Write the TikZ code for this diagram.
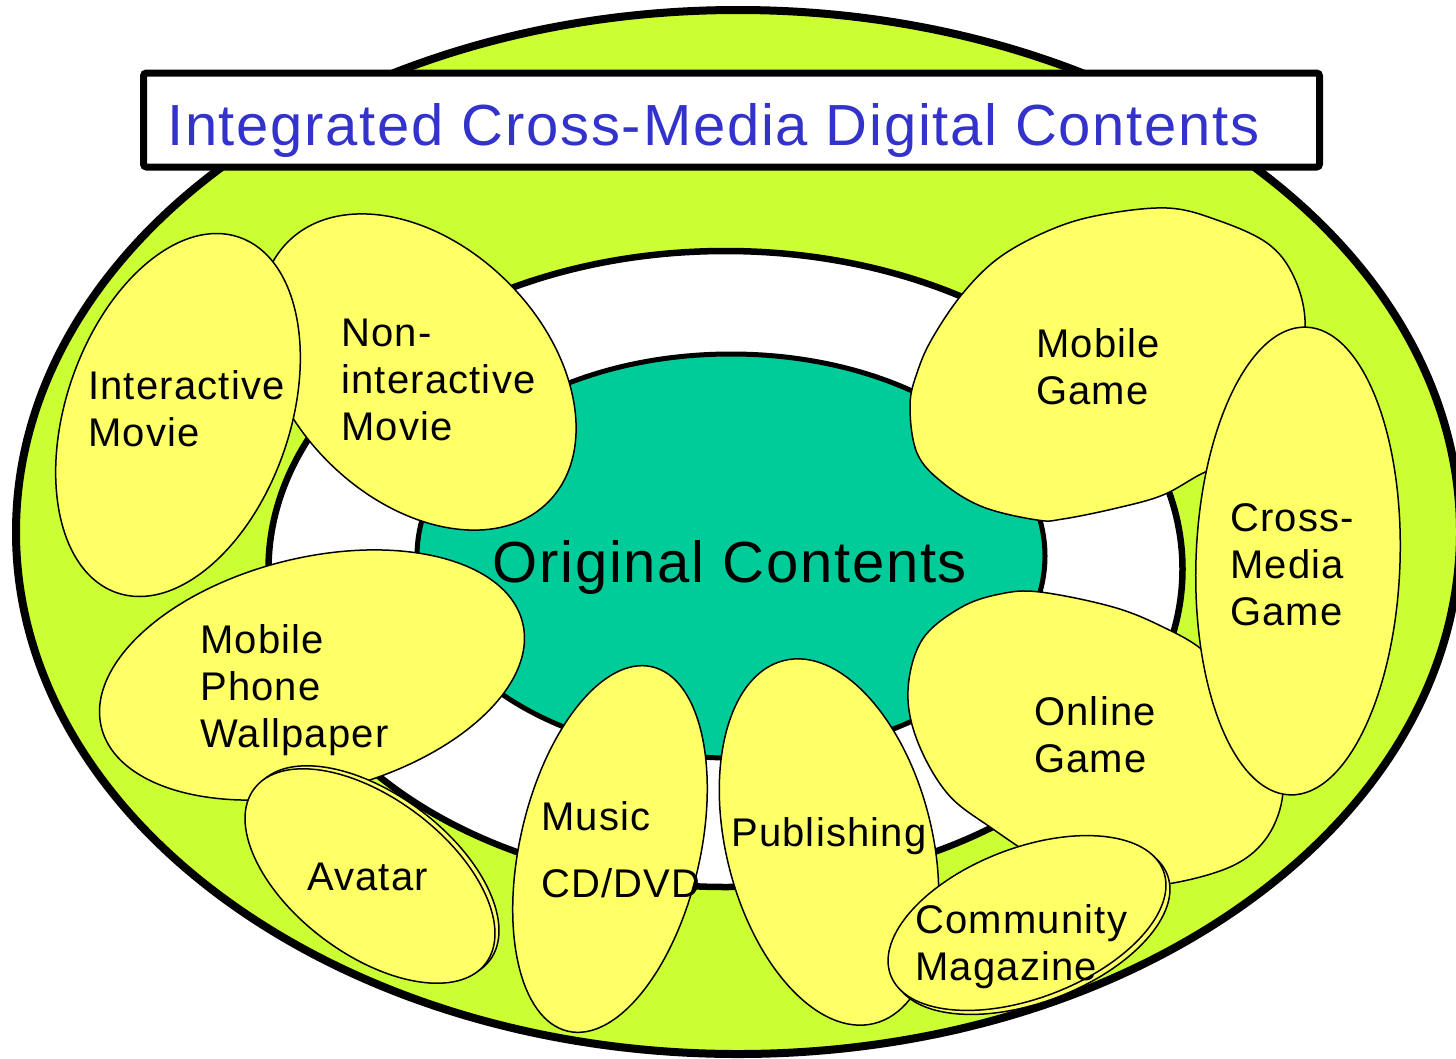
\documentclass[tikz,border=0pt]{standalone}
\usepackage{fontspec}
\setmainfont{Liberation Sans}
\newfontfamily\lblfont[LetterSpace=3]{Liberation Sans}
\definecolor{outergreen}{HTML}{CCFF33}
\definecolor{petal}{HTML}{FFFF66}
\definecolor{core}{HTML}{00CC99}
\definecolor{titleblue}{HTML}{3333CC}
\begin{document}
\begin{tikzpicture}[x=1pt,y=-1pt,
  petalstyle/.style={fill=petal, draw=black, line width=1.5pt},
  lbl/.style={anchor=base west, align=left, inner sep=0pt, font=\lblfont\fontsize{40}{47}\selectfont},
  bigtext/.style={inner sep=0pt, font=\lblfont\fontsize{58}{66}\selectfont},
]
\useasboundingbox (0,0) rectangle (1456,1058);
% outer green ellipse
\draw[fill=outergreen, line width=8pt] (738,532) ellipse [x radius=722pt, y radius=522pt];
% white ring
\draw[fill=white, line width=6.5pt] (725.5,569) ellipse [x radius=457pt, y radius=318pt];
% teal core
\draw[fill=core, line width=5pt] (731,556) ellipse [x radius=314pt, y radius=202pt];
\node[bigtext, anchor=base] (orig) at (730,582) {Original Contents};
% title box
\draw[fill=white, line width=7pt, rounded corners=3pt] (143.5,73) rectangle (1319.5,167);
\node[bigtext, anchor=base west, text=titleblue] (title) at (167,145) {Integrated Cross-Media Digital Contents};
% petals
\draw[petalstyle, rotate around={-45:(418,372)}] (418,372) ellipse [x radius=184pt, y radius=127pt];
\draw[petalstyle, rotate around={71:(178,415)}] (178,415) ellipse [x radius=188pt, y radius=112pt];
\draw[petalstyle, rotate around={14:(312,675)}] (312,675) ellipse [x radius=217pt, y radius=117pt];
\draw[petalstyle, rotate around={-37:(374,873)}] (374,873) ellipse [x radius=145pt, y radius=78pt];
\draw[petalstyle, rotate around={-37:(370,876)}] (370,876) ellipse [x radius=145pt, y radius=78pt];
\draw[petalstyle, rotate around={77:(610,849)}] (610,849) ellipse [x radius=187pt, y radius=90pt];
\draw[petalstyle, rotate around={-76:(829,842)}] (829,842) ellipse [x radius=187pt, y radius=103pt];
\draw[petalstyle] plot[smooth cycle, tension=0.6] coordinates {
  (1167,208) (1217,220) (1267,243) (1293,275) (1305,320) (1298,375) (1275,425)
  (1240,458) (1203,473) (1163,495) (1117,508) (1063,519) (1037,520) (983,507)
  (943,483) (917,453) (910,405) (918,370) (933,337) (963,293) (1000,257)
  (1050,230) (1100,215)};
\draw[petalstyle] plot[smooth cycle, tension=0.6] coordinates {
  (1040,592) (1113,607) (1163,627) (1205,652) (1250,700) (1278,760) (1282,800)
  (1265,840) (1230,867) (1167,884) (1110,885) (1050,865) (990,827) (947,793)
  (917,740) (908,690) (922,640) (960,608) (1000,594)};
\draw[petalstyle, rotate around={88:(1298,561)}] (1298,561) ellipse [x radius=234pt, y radius=102pt];
\draw[petalstyle, rotate around={21:(1031,927)}] (1031,927) ellipse [x radius=146pt, y radius=75pt];
\draw[petalstyle, rotate around={21:(1027,923)}] (1027,923) ellipse [x radius=146pt, y radius=75pt];
% labels (anchor = baseline of the last line)
\node[lbl] (im) at (88,446) {Interactive\\Movie};
\node[lbl] (nim) at (341,440) {Non-\\interactive\\Movie};
\node[lbl] (mpw) at (200,747) {Mobile\\Phone\\Wallpaper};
\node[lbl] (av) at (307,890) {Avatar};
\node[lbl] (mus) at (541,897) {Music\\[20pt]CD/DVD};
\node[lbl] (pub) at (731,846) {Publishing};
\node[lbl] (com) at (915,980) {Community\\Magazine};
\node[lbl] (onl) at (1034,772) {Online\\Game};
\node[lbl] (mg) at (1036,404) {Mobile\\Game};
\node[lbl] (cmg) at (1230,625) {Cross-\\Media\\Game};
\end{tikzpicture}
\end{document}
